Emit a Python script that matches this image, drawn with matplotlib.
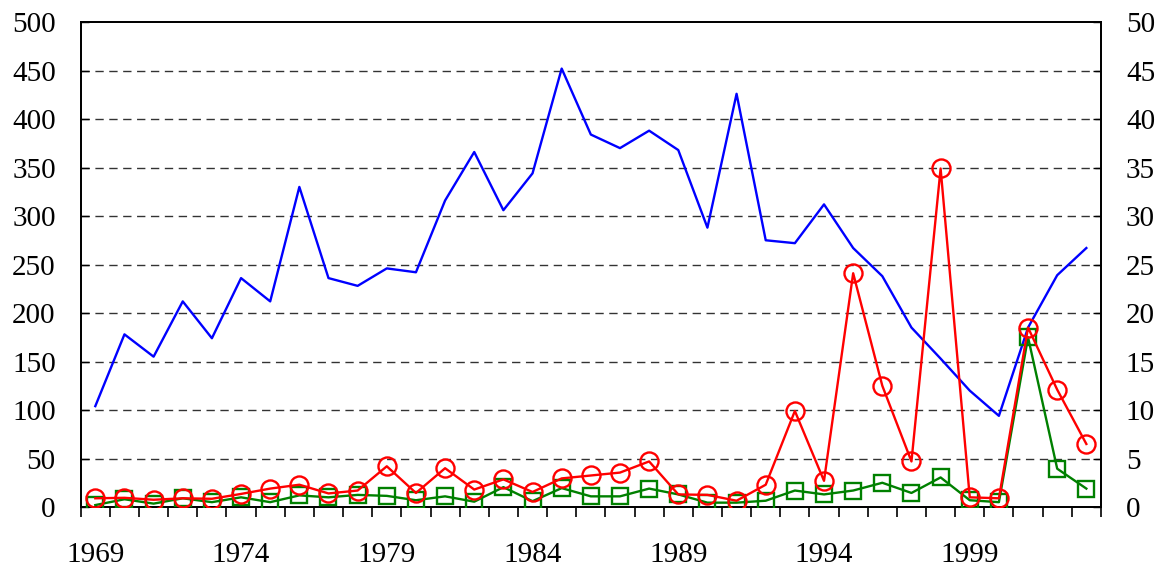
import matplotlib
matplotlib.use("Agg")
import matplotlib.pyplot as plt
import numpy as np

plt.rcParams['font.family'] = ['Liberation Serif', 'DejaVu Serif']

years = list(range(1969, 2004))
blue_values = [104, 178, 155, 212, 174, 236, 212, 330, 236, 228, 246, 242, 316, 366,
               306, 344, 452, 384, 370, 388, 368, 288, 426, 275, 272, 312, 267, 238,
               185, 153, 120, 94, 185, 239, 267]
red_values = [0.9, 0.95, 0.75, 0.9, 0.85, 1.35, 1.9, 2.3, 1.4, 1.7, 4.2, 1.45, 4.0, 1.8,
              2.85, 1.55, 2.95, 3.25, 3.55, 4.7, 1.3, 1.25, 0.65, 2.3, 9.9, 2.7, 24.1,
              12.5, 4.7, 34.9, 1.0, 0.9, 18.5, 12.1, 6.5]
green_values = [0.2, 0.8, 0.35, 0.9, 0.5, 1.0, 0.5, 1.2, 1.0, 1.25, 1.15, 0.7, 1.1, 0.55,
                2.05, 0.6, 1.95, 1.1, 1.1, 1.9, 1.3, 0.45, 0.45, 0.65, 1.7, 1.3, 1.7,
                2.5, 1.45, 3.05, 0.7, 0.5, 17.5, 3.95, 1.9]
left_ticks = list(range(0, 501, 50))
right_ticks = list(range(0, 51, 5))
x_labels = [1969, 1974, 1979, 1984, 1989, 1994, 1999]

fig = plt.figure(figsize=(11.65, 5.72), dpi=100)
ax = fig.add_axes([0.0693, 0.1136, 0.8757, 0.8479])
ax2 = ax.twinx()

ax.plot(years, blue_values, color='#0000ff', lw=1.7, zorder=3)
ax2.plot(years, green_values, color='#008000', lw=1.7, marker='s', ms=12,
         mfc='none', mec='#008000', mew=1.7, zorder=3)
ax2.plot(years, red_values, color='#ff0000', lw=1.7, marker='o', ms=13,
         mfc='none', mec='#ff0000', mew=1.7, zorder=4)

ax.set_xlim(1968.5, 2003.5)
ax.set_ylim(0, 500)
ax2.set_ylim(0, 50)

ax.set_yticks(left_ticks)
ax2.set_yticks(right_ticks)
ax.set_xticks(x_labels)
ax.set_xticks(np.arange(1968.5, 2004, 1.0), minor=True)

for y in left_ticks[1:-1]:
    ax.axhline(y, color='#333333', lw=1.0, ls=(0, (6, 4)), zorder=1)

ax.tick_params(axis='x', which='major', length=0, pad=25, labelsize=21)
ax.tick_params(axis='x', which='minor', length=7, width=1.2, direction='out')
ax.tick_params(axis='y', which='major', length=6, width=1.0, direction='in',
               pad=18, labelsize=21)
ax2.tick_params(axis='y', which='major', length=6, width=1.0, direction='in',
                pad=18, labelsize=21)

for a in (ax, ax2):
    for s in a.spines.values():
        s.set_linewidth(1.3)
        s.set_color('black')

fig.savefig('out.png', dpi=100)
